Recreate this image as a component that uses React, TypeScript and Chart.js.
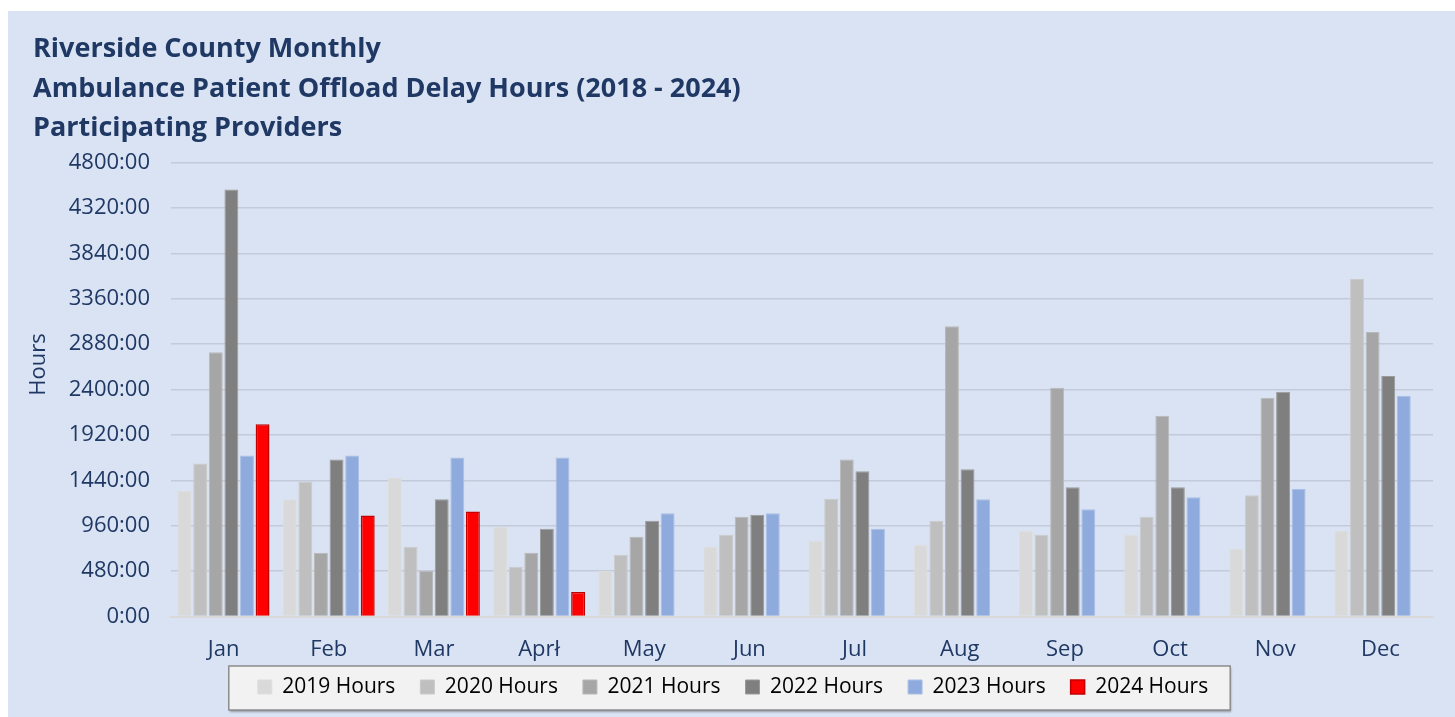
import { useEffect, useRef } from 'react';
import { Chart, registerables } from 'chart.js';

Chart.register(...registerables);

const TITLE_LINES = [
  'Riverside County Monthly',
  'Ambulance Patient Offload Delay Hours (2018 - 2024)',
  'Participating Providers',
];
const Y_TITLE = 'Hours';
const MONTHS = ['Jan', 'Feb', 'Mar', 'Aprł', 'May', 'Jun', 'Jul', 'Aug', 'Sep', 'Oct', 'Nov', 'Dec'];
const SERIES_LABELS = ['2019 Hours', '2020 Hours', '2021 Hours', '2022 Hours', '2023 Hours', '2024 Hours'];

const HOURS_2019 = [1326, 1241, 1470, 948, 483, 737, 800, 758, 906, 864, 716, 906];
const HOURS_2020 = [1618, 1427, 737, 525, 652, 864, 1244, 1012, 864, 1054, 1283, 3570];
const HOURS_2021 = [2795, 673, 483, 673, 842, 1054, 1660, 3070, 2418, 2122, 2312, 3007];
const HOURS_2022 = [4515, 1660, 1241, 927, 1012, 1075, 1537, 1558, 1368, 1368, 2376, 2542];
const HOURS_2023 = [1702, 1702, 1681, 1681, 1093, 1093, 927, 1241, 1135, 1262, 1347, 2334];
const HOURS_2024 = [2034, 1068, 1110, 258, null, null, null, null, null, null, null, null];

const Y_MIN = 0;
const Y_MAX = 4800;
const Y_STEP = 480;

const NAVY = '#1F3864';
const FONT = "'Open Sans', 'DejaVu Sans', sans-serif";

const legendBoxPlugin = {
  id: 'legendBox',
  beforeDraw(chart: any) {
    const lg = chart.legend;
    if (!lg || !lg.lineWidths) return;
    const pad = lg.options.labels.padding;
    const rowW = lg.lineWidths[0];
    const start = (lg.left + pad + lg.right - rowW) / 2;
    const end = start + rowW - pad;
    const fontSize = lg.options.labels.font.size;
    const mid = lg.top + pad + fontSize / 2;
    const x0 = start - 29;
    const x1 = end + 22;
    const y0 = mid - 21;
    const y1 = mid + 23;
    const ctx = chart.ctx;
    ctx.save();
    ctx.shadowColor = 'rgba(0,0,0,0.35)';
    ctx.shadowBlur = 2;
    ctx.shadowOffsetX = 1;
    ctx.shadowOffsetY = 1.5;
    ctx.fillStyle = '#F2F2F2';
    ctx.fillRect(x0, y0, x1 - x0, y1 - y0);
    ctx.shadowColor = 'transparent';
    ctx.strokeStyle = '#8C8C8C';
    ctx.lineWidth = 1.5;
    ctx.strokeRect(x0, y0, x1 - x0, y1 - y0);
    ctx.restore();
  },
};

const yTitlePlugin = {
  id: 'yTitle',
  afterDraw(chart: any) {
    const ctx = chart.ctx;
    ctx.save();
    ctx.translate(31, chart.chartArea.top + 202);
    ctx.rotate(-Math.PI / 2);
    ctx.font = `22px ${FONT}`;
    ctx.fillStyle = NAVY;
    ctx.textAlign = 'center';
    ctx.textBaseline = 'middle';
    ctx.fillText(Y_TITLE, 0, 0);
    ctx.restore();
  },
};

export default function App() {
  const ref = useRef<HTMLCanvasElement | null>(null);

  useEffect(() => {
    if (!ref.current) return;
    const mk = (label: string, data: (number | null)[], bg: string, border: string, bw: number) => ({
      label,
      data,
      backgroundColor: bg,
      borderColor: border,
      borderWidth: bw,
      categoryPercentage: 0.89,
      barPercentage: 0.89,
    });
    const chart = new Chart(ref.current, {
      type: 'bar',
      data: {
        labels: MONTHS,
        datasets: [
          mk(SERIES_LABELS[0], HOURS_2019, '#D9D9D9', '#DEDEDE', 1),
          mk(SERIES_LABELS[1], HOURS_2020, '#BFBFBF', '#CACACA', 1),
          mk(SERIES_LABELS[2], HOURS_2021, '#A6A6A6', '#B8B8B8', 1),
          mk(SERIES_LABELS[3], HOURS_2022, '#7F7F7F', '#9A9A9A', 1),
          mk(SERIES_LABELS[4], HOURS_2023, '#8FAADC', '#A9BFE6', 1),
          mk(SERIES_LABELS[5], HOURS_2024, '#FF0000', '#C00000', 1.5),
        ],
      },
      options: {
        responsive: false,
        animation: false,
        devicePixelRatio: 1,
        layout: { padding: { left: 25, right: 22, top: 0, bottom: 9.5 } },
        plugins: {
          title: {
            display: true,
            text: TITLE_LINES,
            align: 'start',
            color: NAVY,
            font: { family: FONT, size: 27, weight: 'bold', lineHeight: 1.455 },
            padding: { top: 19, bottom: 14.7 },
          },
          legend: {
            display: true,
            position: 'bottom',
            labels: {
              color: '#000000',
              font: { family: FONT, size: 21 },
              boxWidth: 14,
              boxHeight: 14,
              padding: 25,
            },
          },
          tooltip: { enabled: false },
        },
        scales: {
          x: {
            grid: { display: false, drawTicks: false },
            border: { display: true, color: '#D9D9D9', width: 2 },
            ticks: { color: NAVY, font: { family: FONT, size: 22 }, padding: 20.5, maxRotation: 0, autoSkip: false },
            afterFit: (s: any) => {
              s.height = 35;
              s._computeLabelArea = () => undefined;
            },
          },
          y: {
            min: Y_MIN,
            max: Y_MAX,
            grid: { color: '#C3CBDA', lineWidth: 1.5, drawTicks: false },
            border: { display: false },
            ticks: {
              stepSize: Y_STEP,
              color: NAVY,
              font: { family: FONT, size: 22 },
              padding: 21,
              callback: (v: any) => `${v}:00`,
            },
            afterFit: (s: any) => { s.width = 138; },
          },
        },
      },
      plugins: [legendBoxPlugin, yTitlePlugin],
    });
    return () => chart.destroy();
  }, []);

  return (
    <div style={{ position: 'absolute', left: 8, top: 11, width: 1447, height: 706, background: '#DAE3F3' }}>
      <canvas ref={ref} width={1447} height={706} style={{ display: 'block' }} />
    </div>
  );
}
